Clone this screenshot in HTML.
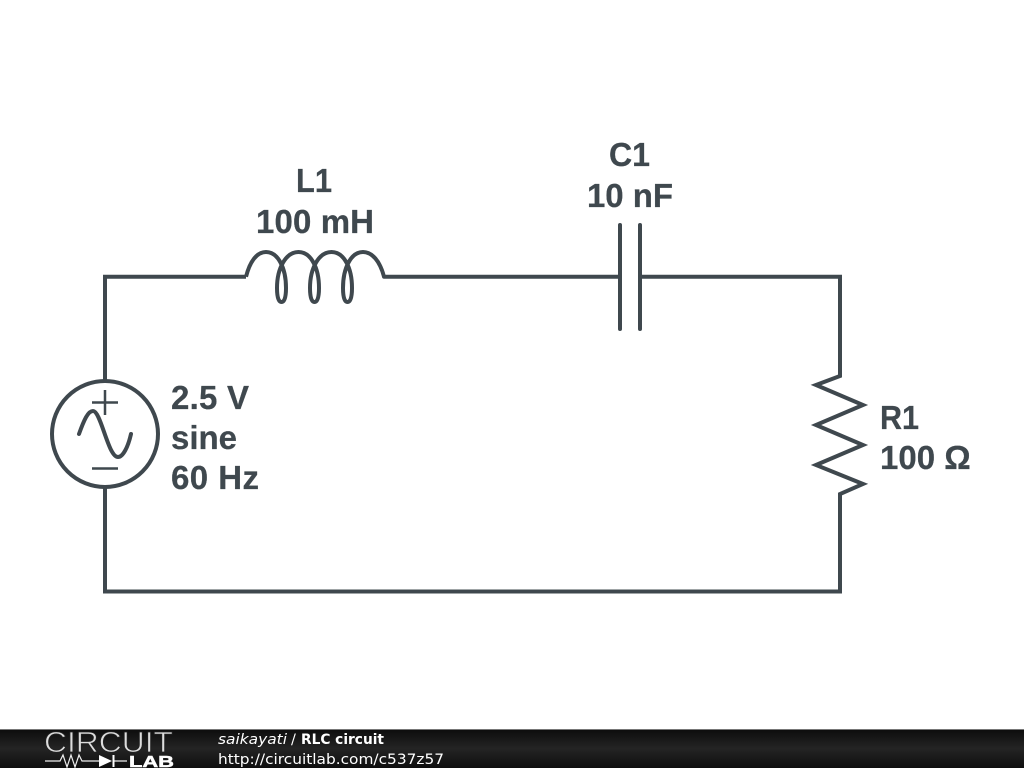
<!DOCTYPE html>
<html><head><meta charset="utf-8"><style>
html,body{margin:0;padding:0;background:#fff;width:1024px;height:768px;overflow:hidden}
svg{display:block}
.l{font-family:"Liberation Sans",sans-serif;font-weight:700;font-size:33px;fill:#3f484e;stroke:#3f484e;stroke-width:0.25}
.f{font-family:"DejaVu Sans",sans-serif;font-size:14.5px;fill:#fff}
</style></head><body>
<svg width="1024" height="768" viewBox="0 0 1024 768" xmlns="http://www.w3.org/2000/svg">
<defs><linearGradient id="b" x1="0" y1="0" x2="0" y2="1"><stop offset="0" stop-color="#0c0c0c"/><stop offset="0.5" stop-color="#242424"/><stop offset="1" stop-color="#0e0e0e"/></linearGradient></defs>
<rect width="1024" height="768" fill="#fff"/>
<g fill="none" stroke="#3f484e" stroke-width="4" stroke-linecap="round" stroke-linejoin="round">
<path stroke-linecap="butt" stroke-linejoin="miter" d="M105 381V276.800H246"/>
<path stroke-linecap="butt" d="M246 276.800C250 261 257 252 266 252C278 252 286 268 286 288C286 297 284.500 302 281.500 302C278.500 302 277 297 277 288C277 268 286 252 298.500 252C311 252 319 268 319 288C319 297 317.500 302 314.500 302C311.500 302 310 297 310 288C310 268 319 252 331.500 252C344 252 352 268 352 288C352 297 350.500 302 347.500 302C344.500 302 343 297 343 288C343 268 351 252 363 252C372 252 380 261 384 276.800H620"/>
<path d="M620 225V329M640 225V329"/>
<path stroke-linecap="butt" stroke-linejoin="miter" d="M640 276.800H840V376L816 385L863 405L816 425L863 445L816 465L863 484L840 494V591.500H105V488"/>
<circle cx="105" cy="434" r="53"/>
<path stroke-width="2.500" stroke-linecap="butt" d="M92 402.500H118M105 390V415M92 468.500H118"/>
<path d="M79 434C84 420 88 411 93 411C101 411 108 457 118 457C123 457 128 447 131 434"/>
</g>
<text class="l" x="296" y="192" textLength="36" lengthAdjust="spacingAndGlyphs">L1</text>
<text class="l" x="256" y="233" textLength="118">100 mH</text>
<text class="l" x="609" y="166" textLength="41" lengthAdjust="spacingAndGlyphs">C1</text>
<text class="l" x="587" y="207" textLength="86">10 nF</text>
<text class="l" x="171" y="409" textLength="78">2.5 V</text>
<text class="l" x="171" y="449">sine</text>
<text class="l" x="171" y="489" textLength="88">60 Hz</text>
<text class="l" x="880" y="429" textLength="39" lengthAdjust="spacingAndGlyphs">R1</text>
<text class="l" x="880" y="469">100 Ω</text>
<rect y="729" width="1024" height="39" fill="url(#b)"/>
<rect y="729" width="1024" height="1" fill="#777"/>
<text x="44" y="752" font-family="Liberation Sans,sans-serif" font-size="29" fill="#ddd" stroke="#222" stroke-width="0.8" textLength="129" lengthAdjust="spacingAndGlyphs">CIRCUIT</text>
<path d="M45 761H60L63 755L67 767L71 755L75 767L79 755L82 761H99M113 761H127" fill="none" stroke="#eee" stroke-width="1.200"/>
<path d="M99 755L112 761L99 767Z" fill="#fff"/><path d="M113.500 755V767" stroke="#fff" stroke-width="2"/>
<text x="129" y="767" font-family="Liberation Sans,sans-serif" font-weight="700" font-size="16" fill="#fff" stroke="#fff" stroke-width="0.500" textLength="45" lengthAdjust="spacingAndGlyphs">LAB</text>
<text class="f" x="218" y="744" font-style="italic" textLength="69" lengthAdjust="spacingAndGlyphs">saikayati</text>
<text class="f" x="291" y="744">/</text>
<text class="f" x="301" y="744" font-weight="700" textLength="83" lengthAdjust="spacingAndGlyphs">RLC circuit</text>
<text class="f" x="218" y="764" textLength="226" lengthAdjust="spacingAndGlyphs">http://circuitlab.com/c537z57</text>
</svg>
</body></html>
